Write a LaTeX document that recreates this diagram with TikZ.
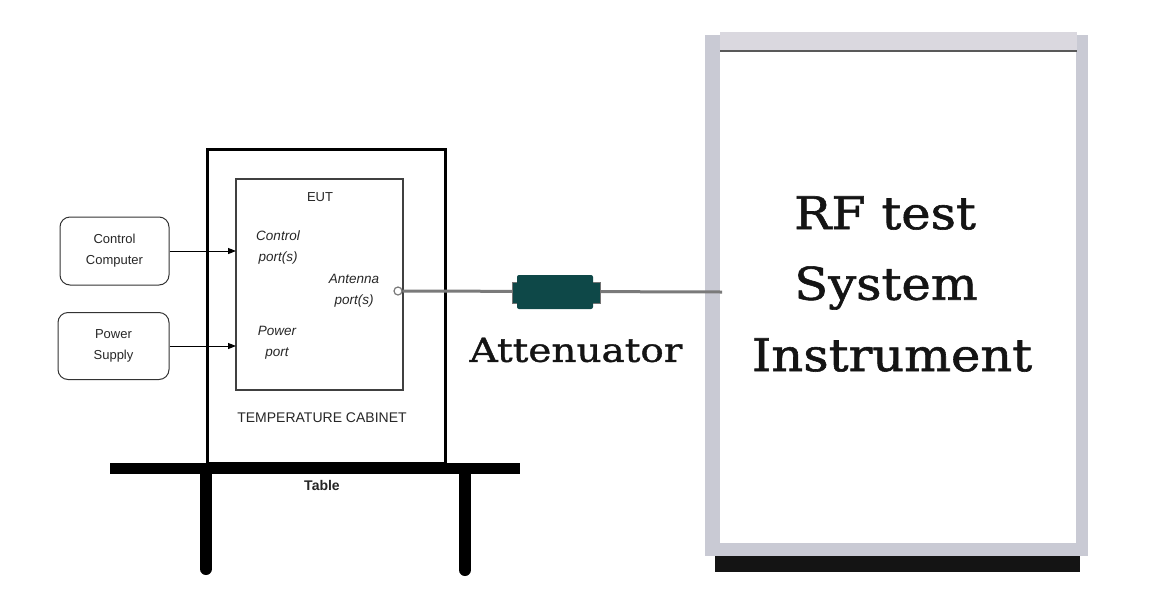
\documentclass[tikz,border=0pt]{standalone}
\usepackage{fontspec}
\setmainfont{Liberation Sans}
\newfontfamily\bigserif[FakeBold=1.3, FakeStretch=1.1]{DejaVu Serif}
\newfontfamily\attserif[FakeBold=1.2, FakeStretch=1.18]{DejaVu Serif}
\usetikzlibrary{arrows.meta}
\definecolor{frame}{HTML}{C9CAD4}
\definecolor{framelt}{HTML}{DAD8DF}
\definecolor{teal}{HTML}{0E4848}
\definecolor{cable}{HTML}{7A7A7A}
\begin{document}
\begin{tikzpicture}[x=1pt,y=-1pt,
  box/.style={draw=black!80, line width=1pt, rounded corners=10pt, align=center,
    font=\fontsize{13}{21}\selectfont, text=black!85, inner sep=0pt},
  lbl/.style={font=\fontsize{13}{16}\selectfont, align=center, text=black!85, inner sep=0pt},
  port/.style={font=\fontsize{13.5}{21}\selectfont\itshape, align=center, text=black!85, inner sep=0pt},
  conn/.style={-{Triangle[length=8pt,width=6pt]}, line width=1pt},
  big/.style={font=\bigserif\fontsize{45}{60}\selectfont, inner sep=0pt, text=black!92}]
\useasboundingbox (0,0) rectangle (1162,603);

% temperature cabinet and EUT
\node[draw, line width=3pt, minimum width=238pt, minimum height=314pt] (cab) at (326,306) {};
\node[draw=black!75, line width=1.2pt, minimum width=167pt, minimum height=211pt] (eut) at (319.5,284.5) {};
\node[lbl] (eutl) at (320,197) {EUT};
\node[lbl, font=\fontsize{14}{16}\selectfont] (cabl) at (322,418) {TEMPERATURE CABINET};

% table
\fill (110,463) rectangle (520,474);
\draw[line width=12pt, line cap=round] (206,470) -- (206,569);
\draw[line width=12pt, line cap=round] (465,470) -- (465,570);
\node[lbl, font=\fontsize{14}{16}\selectfont\bfseries] (tbl) at (322,485) {Table};

% source boxes
\node[box, minimum width=109pt, minimum height=68pt] (cc) at (114.5,251) {Control\\Computer};
\node[box, minimum width=111pt, minimum height=67pt] (ps) at (113.5,346) {Power\\Supply};
\coordinate (cp) at (236,251);
\coordinate (pp) at (236,346);
\draw[conn] (cc.east) -- (cp);
\draw[conn] (ps.east) -- (pp);
\node[port] (cpl) at (278,248) {Control\\port(s)};
\node[port] (ppl) at (277,343) {Power\\port};
\node[port] (apl) at (354,291) {Antenna\\port(s)};

% RF instrument
\fill[frame] (705,35) rectangle (720,556);
\fill[frame] (1076,35) rectangle (1088,553);
\node[fill=white, minimum width=356pt, minimum height=491pt, inner sep=0pt] (inst) at (898,297.5) {};
\fill[framelt] (720,32) rectangle (1077,50);
\fill[black!65] (720,50) rectangle (1077,52);
\fill[frame] (705,543) rectangle (1088,556);
\fill[black!92] (715,556) rectangle (1080,572);
\node[big] (rf) at (885,213) {RF test};
\node[big] (sys) at (886,288) {System};
\node[big] (ins) at (892,355) {Instrument};

% cable, port and attenuator
\node[circle, draw=cable, fill=white, line width=1.2pt, minimum size=8pt, inner sep=0pt] (ap) at (398,291) {};
\coordinate (ce) at (722,292);
\draw[cable, line width=3pt] (ap.east) -- (ce);
\node[fill=teal, draw=black!55, line width=0.8pt, minimum width=88pt, minimum height=21pt, inner sep=0pt] (attend) at (556,292.5) {};
\node[fill=teal, rounded corners=2pt, minimum width=76pt, minimum height=34pt, inner sep=0pt] (att) at (555,292) {};
\node[font=\attserif\fontsize{33}{40}\selectfont, inner sep=0pt, text=black!92] (attl) at (576,350) {Attenuator};
\end{tikzpicture}
\end{document}
